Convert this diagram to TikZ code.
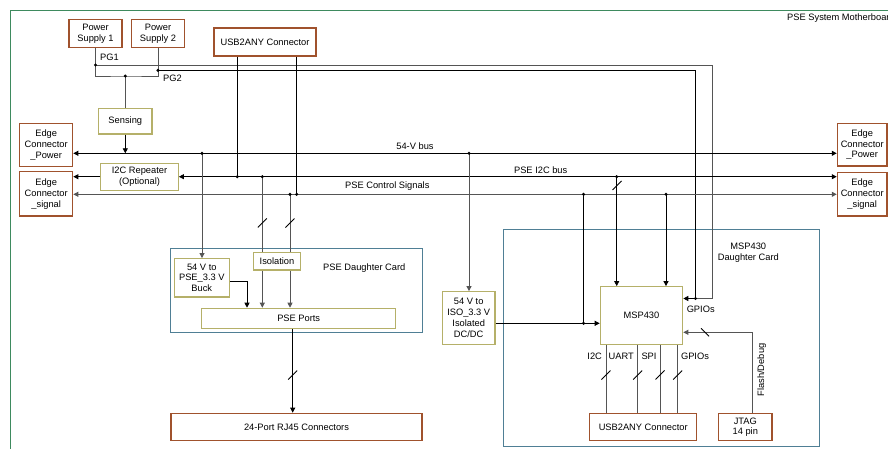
\documentclass[tikz,border=0pt]{standalone}
\usepackage{fontspec}
\setmainfont{Liberation Sans}
\usetikzlibrary{arrows.meta}
\definecolor{bbrown}{HTML}{A0522D}
\definecolor{khaki}{HTML}{B5B069}
\definecolor{cardblue}{HTML}{4F7F95}
\definecolor{framegreen}{HTML}{3E8A5E}
\definecolor{gline}{HTML}{555555}
\tikzset{
  every node/.style={font=\fontsize{9.3}{10.8}\selectfont, align=center, inner sep=0pt},
  bbox/.style={draw=bbrown, line width=1.2pt, fill=white},
  kbox/.style={draw=khaki, line width=1.2pt, fill=white},
  card/.style={draw=cardblue, line width=1pt},
  wire/.style={line width=0.8pt, black},
  gwire/.style={line width=0.8pt, gline},
  arr/.style={-{Triangle[length=5pt,width=5pt]}},
  darr/.style={{Triangle[length=5pt,width=5pt]}-{Triangle[length=5pt,width=5pt]}},
  dot/.style={circle, fill=black, minimum size=3.4pt, inner sep=0pt},
}
\newcommand\slashmark[1]{\draw[wire] (#1) ++(-4.5,4.5) -- ++(9,-9);}
\newcommand\bslashmark[1]{\draw[wire] (#1) ++(-4,-4) -- ++(8,8);}
\begin{document}
\begin{tikzpicture}[x=1pt,y=-1pt]
\useasboundingbox (0,0) rectangle (888,448);
\clip (0,0) rectangle (888,448);
% frame
\draw[framegreen, line width=1pt] (10.5,10.5) rectangle (920,470);
\node[anchor=west] (mb) at (787,18) {PSE System Motherboard};
% cards
\draw[card] (170.7,248.7) rectangle (422,332.7);
\draw[card] (503.7,229) rectangle (819.3,446);
\node (pcl) at (364.3,267.7) {PSE Daughter Card};
\node (mcl) at (748.3,253) {MSP430\\Daughter Card};
% nodes
\node[bbox, minimum width=53pt, minimum height=28.4pt] (ps1) at (95.5,33.5) {Power\\Supply 1};
\node[bbox, minimum width=52.6pt, minimum height=28.4pt] (ps2) at (158,33.5) {Power\\Supply 2};
\node[bbox, minimum width=102pt, minimum height=28pt] (usbtop) at (265,42) {USB2ANY Connector};
\node[kbox, minimum width=53.3pt, minimum height=25.7pt] (sens) at (125.3,121.2) {Sensing};
\node[bbox, minimum width=53pt, minimum height=43.4pt] (ecpl) at (46.2,145) {Edge\\Connector\\\_Power};
\node[bbox, minimum width=53pt, minimum height=44.3pt] (ecsl) at (46.2,193.8) {Edge\\Connector\\\_signal};
\node[bbox, minimum width=49.7pt, minimum height=42.7pt] (ecpr) at (862.2,144.7) {Edge\\Connector\\\_Power};
\node[bbox, minimum width=49.7pt, minimum height=43.3pt] (ecsr) at (862.2,194.3) {Edge\\Connector\\\_signal};
\node[kbox, minimum width=77.6pt, minimum height=27.4pt] (rep) at (139.5,177) {I2C Repeater\\(Optional)};
\node[kbox, minimum width=55pt, minimum height=38.3pt] (buck) at (201.8,277.8) {54 V to\\PSE\_3.3 V\\Buck};
\node[kbox, minimum width=46.6pt, minimum height=17.7pt] (iso) at (277,261.2) {Isolation};
\node[kbox, minimum width=194pt, minimum height=20pt] (ports) at (298.7,318.3) {PSE Ports};
\node[bbox, minimum width=251pt, minimum height=27.4pt] (rj45) at (296.5,427) {24-Port RJ45 Connectors};
\node[kbox, minimum width=52.7pt, minimum height=52.6pt] (dcdc) at (468.7,318) {54 V to\\ISO\_3.3 V\\Isolated\\DC/DC};
\node[kbox, minimum width=82.4pt, minimum height=57.6pt] (msp) at (641.5,315.5) {MSP430};
\node[bbox, minimum width=107pt, minimum height=27pt] (usbbot) at (643.2,427.2) {USB2ANY Connector};
\node[bbox, minimum width=53.3pt, minimum height=27pt] (jtag) at (745.3,427.2) {JTAG\\14 pin};
% coordinates
\coordinate (pg1) at (95.5,65);
\coordinate (pg2) at (158,70.3);
\coordinate (sensj) at (125.3,76);
\coordinate (gpr) at (712.5,298.5);
\coordinate (gpdot) at (695.5,298.5);
\coordinate (d54a) at (202,153.3);
\coordinate (d54b) at (469,153.3);
\coordinate (dIusb) at (237.3,176.7);
\coordinate (dIpse) at (262.3,176.7);
\coordinate (dImsp) at (616.7,176.7);
\coordinate (dCusb) at (296.7,194.3);
\coordinate (dCpse) at (290,194.3);
\coordinate (dCdc) at (583.5,194.3);
\coordinate (dCmsp) at (666,194.3);
\coordinate (ddc) at (583.5,323.3);
\coordinate (bk) at (247,281.7);
\coordinate (rjx) at (292.7,375);
\coordinate (jc) at (752,332.3);
% power supply wiring
\draw[gwire] (ps1.south) |- (sensj) -| (ps2.south);
\draw[gwire] (pg1) -| (gpr) -- (gpdot);
\draw[wire] (pg2) -| (gpdot);
\draw[wire,arr] (gpdot) -- (msp.east |- gpdot);
\node[anchor=west] (pg1l) at (100,57) {PG1};
\node[anchor=west] (pg2l) at (163,78.5) {PG2};
\draw[gwire] (sensj) -- (sens.north);
\draw[wire,arr] (sens.south) -- (sens.south |- d54a);
% buses
\draw[wire,darr] (ecpl.east |- d54a) -- (ecpr.west |- d54a);
\draw[wire,darr] (rep.east |- dIusb) -- (ecsr.west |- dIusb);
\draw[wire,arr] (rep.west |- dIusb) -- (ecsl.east |- dIusb);
\draw[gwire,darr] (ecsl.east |- dCusb) -- (ecsr.west |- dCusb);
\node (l54) at (415,145.7) {54-V bus};
\node (li2c) at (540.7,169.7) {PSE I2C bus};
\node (lctl) at (387.3,185.7) {PSE Control Signals};
% usb top
\draw[wire] (usbtop.south -| dIusb) -- (dIusb);
\draw[wire] (usbtop.south -| dCusb) -- (dCusb);
% PSE card
\draw[gwire,arr] (d54a) -- (buck.north -| d54a);
\draw[gwire] (dIpse) -- (iso.north -| dIpse);
\draw[gwire] (dCpse) -- (iso.north -| dCpse);
\draw[gwire,arr] (iso.south -| dIpse) -- (ports.north -| dIpse);
\draw[gwire,arr] (iso.south -| dCpse) -- (ports.north -| dCpse);
\draw[wire,arr] (buck.east |- bk) -| (ports.north -| bk);
\draw[wire,arr] (ports.south -| rjx) -- (rj45.north -| rjx);
\slashmark{262.3,223}
\slashmark{290,223}
\slashmark{rjx}
% MSP card
\draw[gwire,arr] (d54b) -- (dcdc.north -| d54b);
\draw[wire,arr] (dcdc.east |- ddc) -- (msp.west |- ddc);
\draw[wire] (dCdc) -- (ddc);
\draw[wire,arr] (dImsp) -- (msp.north -| dImsp);
\draw[wire,arr] (dCmsp) -- (msp.north -| dCmsp);
\slashmark{617,185.5}
\draw[gwire,arr] (jtag.north -| jc) |- (msp.east |- jc);
\bslashmark{705,332.3}
\node[rotate=90] (fd) at (761.7,370) {Flash/Debug};
\node (gp1) at (700.7,309.3) {GPIOs};
\foreach \xx/\nm in {606/a,637.7/b,660/c,677.7/d}{
  \draw[gwire] (msp.south -| \xx,0) -- (usbbot.north -| \xx,0);
  \slashmark{\xx,375}
}
\node (li2cb) at (594.7,356) {I2C};
\node (luart) at (621.3,356) {UART};
\node (lspi) at (649,356) {SPI};
\node (lgpio) at (695,356) {GPIOs};
% dots
\foreach \c in {pg1,pg2,sensj,gpdot,d54a,d54b,dIusb,dIpse,dImsp,dCusb,dCpse,dCdc,dCmsp,ddc}{
  \fill (\c) circle (1.7);
}
\end{tikzpicture}
\end{document}
